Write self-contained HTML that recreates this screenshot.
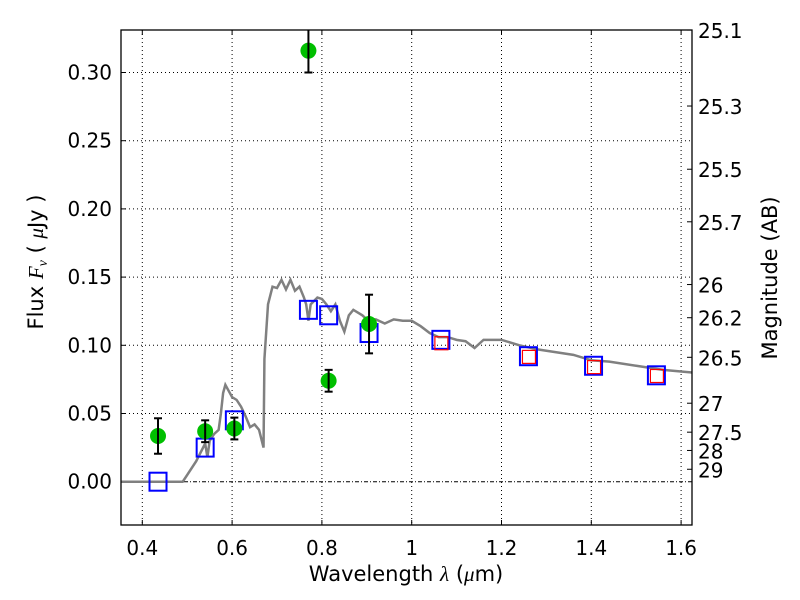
<!DOCTYPE html>
<html><head><meta charset="utf-8"><style>
body{margin:0;background:#fff;}
svg{display:block;font-family:"DejaVu Sans","Liberation Sans",sans-serif;}
</style></head><body>
<svg id="chart" width="800" height="600" xmlns="http://www.w3.org/2000/svg"></svg>
<script>
const xTicks=[0.4,0.6,0.8,1.0,1.2,1.4,1.6];
const xTickLabels=["0.4","0.6","0.8","1","1.2","1.4","1.6"];
const yTicks=[0,0.05,0.10,0.15,0.20,0.25,0.30];
const yTickLabels=["0.00","0.05","0.10","0.15","0.20","0.25","0.30"];
const magTicks=[25.1,25.3,25.5,25.7,26,26.2,26.5,27,27.5,28,29];
const obsWave=[0.435,0.54,0.605,0.77,0.815,0.905];
const obsFlux=[0.0335,0.037,0.039,0.316,0.074,0.1156];
const obsErr=[0.013,0.008,0.008,0.016,0.008,0.0215];
const modelWave=[0.435,0.54,0.605,0.77,0.815,0.905,1.065,1.26,1.405,1.545];
const modelFlux=[0.0,0.025,0.045,0.126,0.122,0.109,0.104,0.092,0.085,0.078];
const redWave=[1.065,1.26,1.405,1.545];
const redFlux=[0.1015,0.0915,0.084,0.0775];
const specWave=[0.35,0.49,0.50,0.52,0.54,0.545,0.55,0.56,0.57,0.575,0.58,0.585,0.59,0.60,0.61,0.62,0.63,0.64,0.65,0.66,0.67,0.672,0.68,0.69,0.70,0.71,0.72,0.73,0.74,0.75,0.76,0.765,0.77,0.775,0.79,0.80,0.81,0.82,0.83,0.84,0.85,0.86,0.87,0.88,0.89,0.90,0.92,0.94,0.96,0.98,1.0,1.02,1.04,1.06,1.08,1.10,1.12,1.14,1.16,1.20,1.24,1.28,1.32,1.36,1.40,1.44,1.50,1.56,1.625];
const specFlux=[0,0,0.005,0.015,0.028,0.018,0.03,0.035,0.038,0.05,0.065,0.071,0.068,0.062,0.06,0.055,0.048,0.040,0.042,0.038,0.025,0.09,0.13,0.143,0.142,0.148,0.141,0.148,0.14,0.143,0.135,0.13,0.118,0.13,0.135,0.134,0.13,0.125,0.13,0.118,0.11,0.122,0.126,0.124,0.122,0.119,0.119,0.116,0.119,0.118,0.118,0.114,0.109,0.106,0.106,0.104,0.103,0.098,0.104,0.104,0.1,0.097,0.095,0.093,0.089,0.088,0.085,0.082,0.08];

const L=121,R=692,T=30,B=525;
const X=v=>142.3+(v-0.4)*449;
const Y=v=>481.7-v*1364;
const svg=document.getElementById('chart');
const NS="http://www.w3.org/2000/svg";
function el(tag,attrs,parent){const e=document.createElementNS(NS,tag);for(const k in attrs)e.setAttribute(k,attrs[k]);(parent||svg).appendChild(e);return e;}

const clip=el('clipPath',{id:'pc'});el('rect',{x:L,y:T,width:R-L,height:B-T},clip);
const grid=el('g',{});


xTicks.forEach((t,i)=>{
  const x=X(t);
  el('line',{x1:x,x2:x,y1:T,y2:B,stroke:'#000','stroke-width':1,'stroke-dasharray':'1,3'},grid);
  el('line',{x1:x,x2:x,y1:B,y2:B-5,stroke:'#000'},grid);
  el('line',{x1:x,x2:x,y1:T,y2:T+5,stroke:'#000'},grid);
  const tx=el('text',{x:x,y:B+30,'font-size':20,'text-anchor':'middle'});
  tx.textContent=xTickLabels[i];
  
  
});
yTicks.forEach((t,i)=>{
  const y=Y(t);
  el('line',{x1:L,x2:R,y1:y,y2:y,stroke:'#000','stroke-width':1,'stroke-dasharray':t===0?'4,2,1,2':'1,3'},grid);
  el('line',{x1:L,x2:L+5,y1:y,y2:y,stroke:'#000'},grid);
  const tx=el('text',{x:L-9,y:y+7,'font-size':20,'text-anchor':'end'});
  tx.textContent=yTickLabels[i];
  
  
});
magTicks.forEach(m=>{
  const f=Math.pow(10,(23.9-m)/2.5);
  const y=Y(f);
  el('line',{x1:R,x2:R-5,y1:y,y2:y,stroke:'#000'});
  const tx=el('text',{x:R+6,y:y+8,'font-size':20});
  tx.textContent=String(m);
  
  
});

const plot=el('g',{'clip-path':'url(#pc)'});
const sp=el('polyline',{points:specWave.map((w,i)=>X(w)+','+Y(specFlux[i])).join(' '),fill:'none',stroke:'#808080','stroke-width':2.5},plot);



modelWave.forEach((w,i)=>{
  const r=el('rect',{x:X(w)-8.5,y:Y(modelFlux[i])-9,width:17,height:18,fill:'none',stroke:'#0000ff','stroke-width':2},plot);
  
  
});
redWave.forEach((w,i)=>{
  const r=el('rect',{x:X(w)-6,y:Y(redFlux[i])-6.5,width:13,height:13,fill:'none',stroke:'#ff0000','stroke-width':1.2},plot);
  
  
});
obsWave.forEach((w,i)=>{
  const x=X(w),y1=Y(obsFlux[i]+obsErr[i]),y2=Y(obsFlux[i]-obsErr[i]);
  const c=el('circle',{cx:x,cy:Y(obsFlux[i]),r:8,fill:'#00bf00'},plot);
  
  
  const g=el('g',{stroke:'#000','stroke-width':2},plot);
  
  
  el('line',{x1:x,x2:x,y1:y1,y2:y2},g);
  el('line',{x1:x-4,x2:x+4,y1:y1,y2:y1},g);
  el('line',{x1:x-4,x2:x+4,y1:y2,y2:y2},g);
});

const fr=el('rect',{x:L,y:T,width:R-L,height:B-T,fill:'none',stroke:'#000','stroke-width':1.3});



const xl=el('text',{x:406,y:581,'font-size':21,'text-anchor':'middle'});
xl.innerHTML='Wavelength  <tspan font-family="Liberation Serif" font-style="italic">λ</tspan> (<tspan font-family="Liberation Serif" font-style="italic">μ</tspan>m)';


const yl=el('text',{x:0,y:0,'font-size':21,'text-anchor':'middle',transform:'translate(43,262) rotate(-90)'});
yl.innerHTML='Flux  <tspan font-family="Liberation Serif" font-style="italic">F<tspan font-size="14" dy="4">ν</tspan></tspan><tspan dy="-4">  ( </tspan><tspan font-family="Liberation Serif" font-style="italic">μ</tspan>Jy )';


const ml=el('text',{x:0,y:0,'font-size':21,'text-anchor':'middle',transform:'translate(777,278) rotate(-90)'});
ml.textContent='Magnitude (AB)';


</script>
</body></html>
